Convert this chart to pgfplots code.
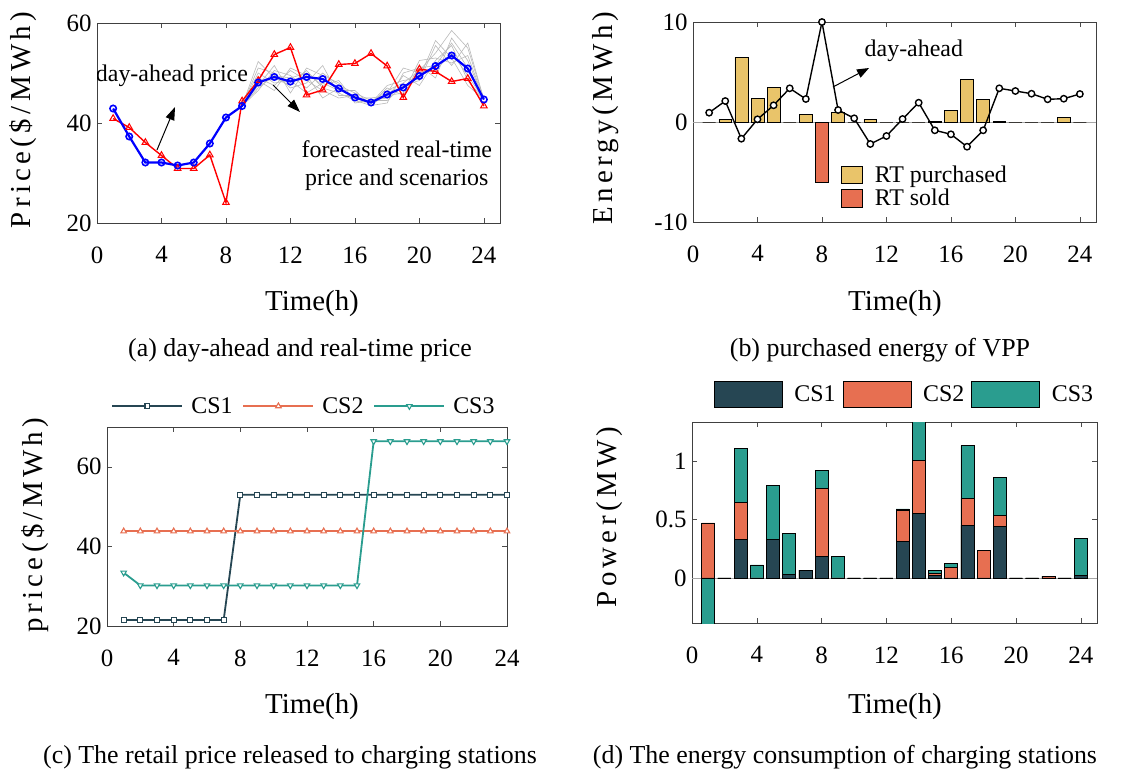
\documentclass[border=0pt]{standalone}
\usepackage{fontspec}
\setmainfont{Liberation Serif}
\newfontfamily\spaced[LetterSpace=15]{Liberation Serif}
\usepackage{pgfplots}
\pgfplotsset{compat=1.18}
\usetikzlibrary{arrows.meta}
\definecolor{cA}{HTML}{264653}
\definecolor{cB}{HTML}{E76F51}
\definecolor{cC}{HTML}{2A9D8F}
\definecolor{cY}{HTML}{E9C46A}
\pgfplotsset{
  base/.style={scale only axis, anchor=south west, xmin=0, xmax=25,
    xtick={0,4,...,24}, tick align=inside, major tick length=5bp,
    every tick/.style={black!70, line width=0.6bp},
    axis line style={black!75, line width=0.8bp},
    /pgf/number format/assume math mode=true,
    tick label style={font=\fontsize{25}{29}\selectfont},
    xticklabel style={yshift=-20bp},
    yticklabel style={xshift=-2bp}},
  sc/.style={gray!55, line width=0.6bp, no markers},
}
\begin{document}
\begin{tikzpicture}
\path[use as bounding box] (0,0) rectangle (1135bp,-777bp);
% ---------------- (a)
\begin{axis}[base, at={(97bp,-223bp)}, width=403bp, height=200bp,
  ymin=20, ymax=60, ytick={20,40,60}]
\addplot[sc] coordinates {(9,43.4)(10,52.3)(11,49.0)(12,47.5)(13,50.5)(14,47.0)(15,46.0)(16,44.5)(17,44.0)(18,46.5)(19,48.0)(20,50.5)(21,54.0)(22,58.5)(23,55.0)(24,44.7)};
\addplot[sc] coordinates {(9,43.4)(10,46.5)(11,50.5)(12,49.5)(13,47.0)(14,50.0)(15,47.5)(16,46.0)(17,44.5)(18,45.0)(19,49.5)(20,47.5)(21,52.5)(22,55.5)(23,48.5)(24,44.7)};
\addplot[sc] coordinates {(9,43.4)(10,49.0)(11,47.5)(12,50.5)(13,48.5)(14,46.5)(15,45.0)(16,45.5)(17,43.8)(18,47.0)(19,45.5)(20,51.5)(21,49.0)(22,57.0)(23,52.5)(24,44.7)};
\addplot[sc] coordinates {(9,43.4)(10,47.5)(11,51.5)(12,46.0)(13,51.0)(14,49.5)(15,48.0)(16,44.0)(17,44.5)(18,44.5)(19,47.5)(20,48.5)(21,55.5)(22,51.5)(23,56.0)(24,44.7)};
\addplot[sc] coordinates {(9,43.4)(10,50.0)(11,48.0)(12,48.5)(13,46.0)(14,48.0)(15,46.5)(16,46.5)(17,43.5)(18,46.0)(19,51.0)(20,50.0)(21,50.5)(22,54.0)(23,49.5)(24,44.7)};
\addplot[sc] coordinates {(9,43.4)(10,48.5)(11,46.5)(12,51.0)(13,49.5)(14,45.0)(15,47.0)(16,45.0)(17,45.0)(18,45.5)(19,46.0)(20,52.5)(21,53.0)(22,52.0)(23,53.5)(24,44.7)};
\addplot[sc] coordinates {(9,43.4)(10,51.0)(11,50.0)(12,47.0)(13,48.0)(14,51.5)(15,45.5)(16,45.5)(17,44.0)(18,47.5)(19,48.5)(20,49.0)(21,56.5)(22,53.0)(23,47.5)(24,44.7)};
\addplot[sc] coordinates {(9,43.4)(10,47.0)(11,49.5)(12,49.0)(13,50.0)(14,47.5)(15,48.5)(16,44.5)(17,43.5)(18,44.0)(19,50.0)(20,51.0)(21,51.5)(22,56.0)(23,51.0)(24,44.7)};
\addplot[red, line width=1.4bp, mark=triangle, mark size=3.8bp, mark options={line width=1bp}] coordinates {
(1,40.9)(2,39.1)(3,36.1)(4,33.5)(5,30.9)(6,30.9)(7,33.6)(8,24.1)(9,44.4)(10,48.5)(11,53.7)(12,55.1)
(13,45.6)(14,46.6)(15,51.7)(16,51.9)(17,53.9)(18,51.4)(19,45.1)(20,50.8)(21,50.3)(22,48.3)(23,48.9)(24,43.4)};
\addplot[blue, line width=2.2bp, mark=o, mark size=3.2bp, mark options={line width=1.6bp}] coordinates {
(1,42.9)(2,37.3)(3,32.1)(4,32.1)(5,31.5)(6,32.1)(7,35.9)(8,41.1)(9,43.4)(10,48.1)(11,49.2)(12,48.3)
(13,49.2)(14,48.8)(15,46.9)(16,45.1)(17,44.1)(18,45.7)(19,47.1)(20,49.4)(21,51.4)(22,53.5)(23,50.9)(24,44.7)};
\node[font=\fontsize{24}{28}\selectfont] at (axis cs:4.65,49.4) {day-ahead price};
\node[font=\fontsize{24}{28}\selectfont, align=center] at (axis cs:18.6,31.4) {forecasted real-time\\price and scenarios};
\draw[line width=1bp, -{Triangle[length=13bp,width=9bp]}] (axis cs:3.72,34.6) -- (axis cs:4.84,43.2);
\draw[line width=1bp, -{Triangle[length=13bp,width=9bp]}] (axis cs:10.92,47.6) -- (axis cs:12.59,42.2);
\end{axis}
% ---------------- (b)
\begin{axis}[base, at={(693bp,-222bp)}, width=403bp, height=200bp,
  ymin=-10, ymax=10, ytick={-10,0,10},
  legend cell align=left,
  legend style={at={(axis cs:9.0,-4.0)}, anchor=north west, draw=none, fill=none,
    font=\fontsize{24}{28}\selectfont, row sep=1bp},
  legend image code/.code={\draw[#1, draw=black, line width=0.6bp] (0bp,-8.5bp) rectangle (21bp,8.5bp); \path (31bp,0bp);}]
\addplot[gray!70, line width=0.8bp, forget plot] coordinates {(0,0)(25,0)};
\addplot[ybar, bar width=0.8, bar shift=0pt, fill=cY, draw=black, line width=0.6bp] coordinates {
(1,0)(2,0.3)(3,6.5)(4,2.37)(5,3.5)(6,0)(7,0.73)(9,0.93)(10,0)(11,0.27)(12,0)(13,0)(14,0)(15,0.1)
(16,1.13)(17,4.23)(18,2.27)(19,0.05)(20,0)(21,0)(22,0)(23,0.47)(24,0)};
\addlegendentry{RT purchased}
\addplot[ybar, bar width=0.8, bar shift=0pt, fill=cB, draw=black, line width=0.6bp] coordinates {(8,-6.03)};
\addlegendentry{RT sold}
\addplot[black, line width=1.4bp, mark=*, mark size=3.2bp, mark options={fill=white, line width=1.4bp}, forget plot] coordinates {
(1,0.93)(2,2.1)(3,-1.67)(4,0.27)(5,1.67)(6,3.37)(7,2.3)(8,10)(9,1.2)(10,0.37)(11,-2.2)(12,-1.4)
(13,0.3)(14,1.93)(15,-0.83)(16,-1.23)(17,-2.47)(18,-0.83)(19,3.37)(20,3.1)(21,2.83)(22,2.27)(23,2.33)(24,2.8)};
\node[font=\fontsize{24}{28}\selectfont] at (axis cs:13.7,7.1) {day-ahead};
\draw[line width=1bp, -{Triangle[length=12bp,width=9bp]}] (axis cs:8.68,3.5) -- (axis cs:10.92,5.4);
\end{axis}
% ---------------- (c)
\begin{axis}[base, at={(107bp,-626bp)}, width=400bp, height=199bp, xmax=24,
  ymin=20, ymax=70, ytick={20,40,60},
  legend columns=3,
  legend style={at={(0.5,1)}, anchor=south, yshift=8bp, xshift=-3bp, draw=none, fill=none,
    font=\fontsize{24}{28}\selectfont,
    /tikz/every even column/.append style={column sep=8bp}},
  legend image code/.code={\draw[mark repeat=2, mark phase=2, #1] plot coordinates {(0bp,0bp)(35bp,0bp)(70bp,0bp)}; \path (76bp,0bp);}]
\addplot[cA, line width=1.8bp, mark=square*, mark size=2.4bp, mark options={line width=1.1bp, fill=white}] coordinates {
(1,21.5)(2,21.5)(3,21.5)(4,21.5)(5,21.5)(6,21.5)(7,21.5)(8,53)(9,53)(10,53)(11,53)(12,53)(13,53)(14,53)
(15,53)(16,53)(17,53)(18,53)(19,53)(20,53)(21,53)(22,53)(23,53)(24,53)};
\addlegendentry{CS1}
\addplot[cB, line width=1.8bp, mark=triangle*, mark size=3.2bp, mark options={line width=1.1bp, fill=white}] coordinates {
(1,43.8)(2,43.8)(3,43.8)(4,43.8)(5,43.8)(6,43.8)(7,43.8)(8,43.8)(9,43.8)(10,43.8)(11,43.8)(12,43.8)(13,43.8)(14,43.8)
(15,43.8)(16,43.8)(17,43.8)(18,43.8)(19,43.8)(20,43.8)(21,43.8)(22,43.8)(23,43.8)(24,43.8)};
\addlegendentry{CS2}
\addplot[cC, line width=1.8bp, mark=triangle*, mark size=3.2bp, mark options={line width=1.1bp, rotate=180, fill=white}] coordinates {
(1,33.4)(2,30.2)(3,30.2)(4,30.2)(5,30.2)(6,30.2)(7,30.2)(8,30.2)(9,30.2)(10,30.2)(11,30.2)(12,30.2)(13,30.2)(14,30.2)
(15,30.2)(16,66.4)(17,66.4)(18,66.4)(19,66.4)(20,66.4)(21,66.4)(22,66.4)(23,66.4)(24,66.4)};
\addlegendentry{CS3}
\end{axis}
% ---------------- (d)
\begin{axis}[base, at={(692bp,-623bp)}, width=405bp, height=201bp,
  ymin=-0.385, ymax=1.333, ytick={0,0.5,1}, yticklabels={0,0.5,1},
  legend columns=3,
  legend style={at={(0.5,1)}, anchor=south, yshift=12bp, xshift=10bp, draw=none, fill=none,
    font=\fontsize{24}{28}\selectfont,
    /tikz/every even column/.append style={column sep=5bp}},
  legend image code/.code={\draw[#1, draw=black, line width=0.6bp] (0bp,-13bp) rectangle (68bp,13bp); \path (78bp,0bp);}]
\addlegendimage{fill=cA}\addlegendentry{CS1}
\addlegendimage{fill=cB}\addlegendentry{CS2}
\addlegendimage{fill=cC}\addlegendentry{CS3}
\addplot[gray!70, line width=0.8bp, forget plot] coordinates {(0,0)(25,0)};
\addplot[ybar, bar width=0.8, bar shift=0pt, fill=cC, draw=black, line width=0.6bp, forget plot] coordinates {
(1,-0.5)(2,0)(3,1.105)(4,0.111)(5,0.792)(6,0.379)(7,0.068)(8,0.917)(9,0.182)(10,0)(11,0)(12,0)
(13,0.59)(14,1.36)(15,0.063)(16,0.123)(17,1.131)(18,0.234)(19,0.858)(20,0)(21,0)(22,0.015)(23,0)(24,0.336)};
\addplot[ybar, bar width=0.8, bar shift=0pt, fill=cB, draw=black, line width=0.6bp, forget plot] coordinates {
(1,0.47)(2,0)(3,0.644)(4,0)(5,0.33)(6,0.028)(7,0.068)(8,0.764)(9,0)(10,0)(11,0)(12,0)
(13,0.578)(14,1.006)(15,0.04)(16,0.088)(17,0.681)(18,0.234)(19,0.533)(20,0)(21,0)(22,0.015)(23,0)(24,0.023)};
\addplot[ybar, bar width=0.8, bar shift=0pt, fill=cA, draw=black, line width=0.6bp, forget plot] coordinates {
(1,0)(2,0)(3,0.328)(4,0)(5,0.33)(6,0.028)(7,0.068)(8,0.182)(9,0)(10,0)(11,0)(12,0)
(13,0.313)(14,0.55)(15,0.023)(16,0)(17,0.45)(18,0)(19,0.444)(20,0)(21,0)(22,0)(23,0)(24,0.023)};
\end{axis}
% ---------------- labels and captions
\begin{scope}[every node/.style={font=\fontsize{29}{33}\selectfont}]
\node[rotate=90] at (23bp,-120bp) {\spaced Price(\$/MWh)};
\node[rotate=90] at (606bp,-118bp) {\spaced Energy(MWh)};
\node[rotate=90] at (35bp,-525bp) {\spaced price(\$/MWh)};
\node[rotate=90] at (610bp,-517bp) {\spaced Power(MW)};
\node at (312bp,-304bp) {Time(h)};
\node at (895bp,-304bp) {Time(h)};
\node at (312bp,-707bp) {Time(h)};
\node at (895bp,-707bp) {Time(h)};
\end{scope}
\begin{scope}[every node/.style={font=\fontsize{26}{30}\selectfont}]
\node at (300bp,-350bp) {(a) day-ahead and real-time price};
\node at (880bp,-350bp) {(b) purchased energy of VPP};
\node at (290bp,-757bp) {(c) The retail price released to charging stations};
\node at (845bp,-757bp) {(d) The energy consumption of charging stations};
\end{scope}
\end{tikzpicture}
\end{document}
